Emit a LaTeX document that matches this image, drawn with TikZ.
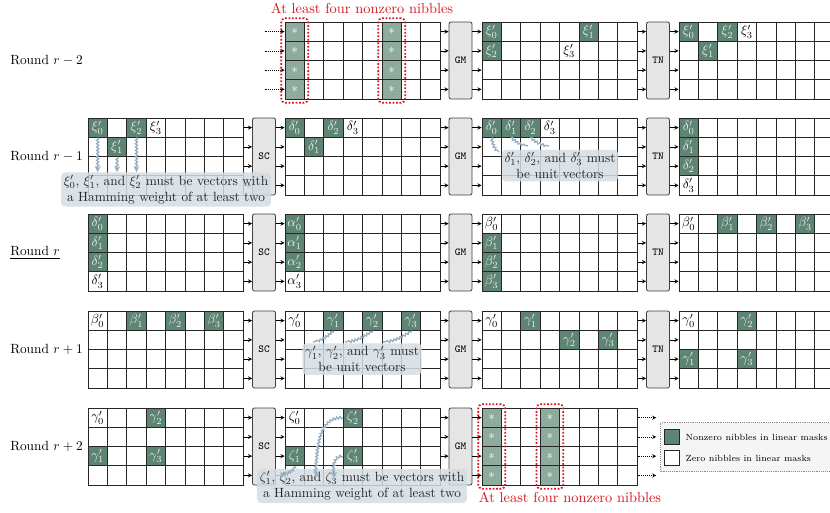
\documentclass[tikz,border=0pt]{standalone}
\usetikzlibrary{fit,positioning,decorations.pathmorphing}

\definecolor{nzgreen}{HTML}{5E8473}
\definecolor{nzlight}{HTML}{8FAB9D}
\definecolor{notefill}{HTML}{D3DCE3}
\definecolor{squig}{HTML}{98AFC3}
\definecolor{hotred}{HTML}{D8141E}

% 4x8 nibble grid: name, left, top (px)
\newcommand{\nibgrid}[3]{%
  \foreach \i in {0,...,3}
    \foreach \j in {0,...,7}
      \node[cell] (#1-\i-\j) at ({#2+9.7+19.4*\j},{#3+9.625+19.25*\i}) {};
}
% mark one cell: cell name, style, text
\newcommand{\mask}[3]{\node[#2] (#1t) at (#1) {#3};}
% wires grid -> box and box -> grid
\newcommand{\wiresin}[2]{\foreach \i in {0,...,3} \draw[->] (#1-\i-7.east) -- (#2.west |- #1-\i-7.east);}
\newcommand{\wiresout}[2]{\foreach \i in {0,...,3} \draw[->] (#1.east |- #2-\i-0.west) -- (#2-\i-0.west);}

\begin{document}
\begin{tikzpicture}[
    x=0.75pt, y=-0.75pt,
    >=stealth,
    cell/.style={draw=black!85, line width=0.6pt, minimum width=14.55pt, minimum height=14.44pt, inner sep=0pt},
    nzcell/.style={cell, fill=nzgreen, text=white!88!nzgreen},
    starcell/.style={cell, fill=nzlight, text=white},
    zcell/.style={inner sep=0pt},
    op/.style={draw=black!75, fill=black!10, line width=0.6pt, rounded corners=1.5pt, minimum width=17.25pt, minimum height=57.75pt, inner sep=0pt, font=\footnotesize\ttfamily},
    hot/.style={draw=hotred, line width=1.3pt, dash pattern=on 1.3pt off 1.3pt, rounded corners=3pt, inner sep=2.5pt},
    hottext/.style={text=hotred, font=\fontsize{10.8}{13}\selectfont},
    rlabel/.style={anchor=west, inner sep=0pt},
    note/.style={fill=notefill, fill opacity=0.85, text opacity=1, text=black!85, rounded corners=3pt, align=center, inner sep=2pt},
    squiggle/.style={draw=squig, line width=1pt, decorate, decoration={snake, amplitude=0.8pt, segment length=2.5pt, post length=2pt}},
    legtext/.style={font=\fontsize{6.7}{8}\selectfont, inner sep=0pt}
  ]
  \useasboundingbox (0,0) rectangle (830,512);
  \clip (0,0) rectangle (830,512);

  % round labels
  \node[rlabel] (lrm2) at (10,60.5) {Round $r-2$};
  \node[rlabel] (lrm1) at (10,156.5) {Round $r-1$};
  \node[rlabel] (lr0) at (10,252.5) {\underline{Round $r$}};
  \node[rlabel] (lrp1) at (10,349.5) {Round $r+1$};
  \node[rlabel] (lrp2) at (10,446.5) {Round $r+2$};

  % ---- round r-2
  \nibgrid{rm2b}{285}{22}
  \nibgrid{rm2c}{482}{22}
  \nibgrid{rm2d}{679}{22}
  \node[op] (rm2gm) at (460.5,60.5) {GM};
  \node[op] (rm2tn) at (658,60.5) {TN};
  \foreach \i in {0,...,3} {
    \mask{rm2b-\i-0}{starcell}{$*$}
    \mask{rm2b-\i-5}{starcell}{$*$}
    \draw[densely dotted,->] ([xshift=-15pt]rm2b-\i-0.west) -- (rm2b-\i-0.west);
  }
  \mask{rm2c-0-0}{nzcell}{$\xi'_0$}
  \mask{rm2c-0-5}{nzcell}{$\xi'_1$}
  \mask{rm2c-1-0}{nzcell}{$\xi'_2$}
  \mask{rm2c-1-4}{zcell}{$\xi'_3$}
  \mask{rm2d-0-0}{nzcell}{$\xi'_0$}
  \mask{rm2d-0-2}{nzcell}{$\xi'_2$}
  \mask{rm2d-0-3}{zcell}{$\xi'_3$}
  \mask{rm2d-1-1}{nzcell}{$\xi'_1$}
  \wiresin{rm2b}{rm2gm} \wiresout{rm2gm}{rm2c}
  \wiresin{rm2c}{rm2tn} \wiresout{rm2tn}{rm2d}
  \node[hot, fit=(rm2b-0-0)(rm2b-3-0)] (hot1) {};
  \node[hot, fit=(rm2b-0-5)(rm2b-3-5)] (hot2) {};
  \node[hottext] (hot1t) at (362,8) {At least four nonzero nibbles};

  % ---- round r-1
  \nibgrid{rm1a}{88}{118}
  \nibgrid{rm1b}{285}{118}
  \nibgrid{rm1c}{482}{118}
  \nibgrid{rm1d}{679}{118}
  \node[op] (rm1sc) at (264,156.5) {SC};
  \node[op] (rm1gm) at (460.5,156.5) {GM};
  \node[op] (rm1tn) at (658,156.5) {TN};
  \mask{rm1a-0-0}{nzcell}{$\xi'_0$}
  \mask{rm1a-0-2}{nzcell}{$\xi'_2$}
  \mask{rm1a-0-3}{zcell}{$\xi'_3$}
  \mask{rm1a-1-1}{nzcell}{$\xi'_1$}
  \mask{rm1b-0-0}{nzcell}{$\delta'_0$}
  \mask{rm1b-0-2}{nzcell}{$\delta'_2$}
  \mask{rm1b-0-3}{zcell}{$\delta'_3$}
  \mask{rm1b-1-1}{nzcell}{$\delta'_1$}
  \mask{rm1c-0-0}{nzcell}{$\delta'_0$}
  \mask{rm1c-0-1}{nzcell}{$\delta'_1$}
  \mask{rm1c-0-2}{nzcell}{$\delta'_2$}
  \mask{rm1c-0-3}{zcell}{$\delta'_3$}
  \mask{rm1d-0-0}{nzcell}{$\delta'_0$}
  \mask{rm1d-1-0}{nzcell}{$\delta'_1$}
  \mask{rm1d-2-0}{nzcell}{$\delta'_2$}
  \mask{rm1d-3-0}{zcell}{$\delta'_3$}
  \wiresin{rm1a}{rm1sc} \wiresout{rm1sc}{rm1b}
  \wiresin{rm1b}{rm1gm} \wiresout{rm1gm}{rm1c}
  \wiresin{rm1c}{rm1tn} \wiresout{rm1tn}{rm1d}

  % ---- round r
  \nibgrid{r0a}{88}{214}
  \nibgrid{r0b}{285}{214}
  \nibgrid{r0c}{482}{214}
  \nibgrid{r0d}{679}{214}
  \node[op] (r0sc) at (264,252.5) {SC};
  \node[op] (r0gm) at (460.5,252.5) {GM};
  \node[op] (r0tn) at (658,252.5) {TN};
  \mask{r0a-0-0}{nzcell}{$\delta'_0$}
  \mask{r0a-1-0}{nzcell}{$\delta'_1$}
  \mask{r0a-2-0}{nzcell}{$\delta'_2$}
  \mask{r0a-3-0}{zcell}{$\delta'_3$}
  \mask{r0b-0-0}{nzcell}{$\alpha'_0$}
  \mask{r0b-1-0}{nzcell}{$\alpha'_1$}
  \mask{r0b-2-0}{nzcell}{$\alpha'_2$}
  \mask{r0b-3-0}{zcell}{$\alpha'_3$}
  \mask{r0c-0-0}{zcell}{$\beta'_0$}
  \mask{r0c-1-0}{nzcell}{$\beta'_1$}
  \mask{r0c-2-0}{nzcell}{$\beta'_2$}
  \mask{r0c-3-0}{nzcell}{$\beta'_3$}
  \mask{r0d-0-0}{zcell}{$\beta'_0$}
  \mask{r0d-0-2}{nzcell}{$\beta'_1$}
  \mask{r0d-0-4}{nzcell}{$\beta'_2$}
  \mask{r0d-0-6}{nzcell}{$\beta'_3$}
  \wiresin{r0a}{r0sc} \wiresout{r0sc}{r0b}
  \wiresin{r0b}{r0gm} \wiresout{r0gm}{r0c}
  \wiresin{r0c}{r0tn} \wiresout{r0tn}{r0d}

  % ---- round r+1
  \nibgrid{rp1a}{88}{311}
  \nibgrid{rp1b}{285}{311}
  \nibgrid{rp1c}{482}{311}
  \nibgrid{rp1d}{679}{311}
  \node[op] (rp1sc) at (264,349.5) {SC};
  \node[op] (rp1gm) at (460.5,349.5) {GM};
  \node[op] (rp1tn) at (658,349.5) {TN};
  \mask{rp1a-0-0}{zcell}{$\beta'_0$}
  \mask{rp1a-0-2}{nzcell}{$\beta'_1$}
  \mask{rp1a-0-4}{nzcell}{$\beta'_2$}
  \mask{rp1a-0-6}{nzcell}{$\beta'_3$}
  \mask{rp1b-0-0}{zcell}{$\gamma'_0$}
  \mask{rp1b-0-2}{nzcell}{$\gamma'_1$}
  \mask{rp1b-0-4}{nzcell}{$\gamma'_2$}
  \mask{rp1b-0-6}{nzcell}{$\gamma'_3$}
  \mask{rp1c-0-0}{zcell}{$\gamma'_0$}
  \mask{rp1c-0-2}{nzcell}{$\gamma'_1$}
  \mask{rp1c-1-4}{nzcell}{$\gamma'_2$}
  \mask{rp1c-1-6}{nzcell}{$\gamma'_3$}
  \mask{rp1d-0-0}{zcell}{$\gamma'_0$}
  \mask{rp1d-0-3}{nzcell}{$\gamma'_2$}
  \mask{rp1d-2-0}{nzcell}{$\gamma'_1$}
  \mask{rp1d-2-3}{nzcell}{$\gamma'_3$}
  \wiresin{rp1a}{rp1sc} \wiresout{rp1sc}{rp1b}
  \wiresin{rp1b}{rp1gm} \wiresout{rp1gm}{rp1c}
  \wiresin{rp1c}{rp1tn} \wiresout{rp1tn}{rp1d}

  % ---- round r+2
  \nibgrid{rp2a}{88}{408}
  \nibgrid{rp2b}{285}{408}
  \nibgrid{rp2c}{482}{408}
  \node[op] (rp2sc) at (264,446.5) {SC};
  \node[op] (rp2gm) at (460.5,446.5) {GM};
  \mask{rp2a-0-0}{zcell}{$\gamma'_0$}
  \mask{rp2a-0-3}{nzcell}{$\gamma'_2$}
  \mask{rp2a-2-0}{nzcell}{$\gamma'_1$}
  \mask{rp2a-2-3}{nzcell}{$\gamma'_3$}
  \mask{rp2b-0-0}{zcell}{$\zeta'_0$}
  \mask{rp2b-0-3}{nzcell}{$\zeta'_2$}
  \mask{rp2b-2-0}{nzcell}{$\zeta'_1$}
  \mask{rp2b-2-3}{nzcell}{$\zeta'_3$}
  \foreach \i in {0,...,3} {
    \mask{rp2c-\i-0}{starcell}{$*$}
    \mask{rp2c-\i-3}{starcell}{$*$}
    \draw[densely dotted,->] (rp2c-\i-7.east) -- ([xshift=14pt]rp2c-\i-7.east);
  }
  \wiresin{rp2a}{rp2sc} \wiresout{rp2sc}{rp2b}
  \wiresin{rp2b}{rp2gm} \wiresout{rp2gm}{rp2c}
  \node[hot, fit=(rp2c-0-0)(rp2c-3-0)] (hot3) {};
  \node[hot, fit=(rp2c-0-3)(rp2c-3-3)] (hot4) {};
  \node[hottext] (hot3t) at (570,497) {At least four nonzero nibbles};

  % legend
  \node[draw=black!45, densely dotted, fill=black!4, minimum width=134pt, minimum height=37pt] (leg) at (750,447) {};
  \node[nzcell, minimum size=11.5pt] (legnz) at (672,437) {};
  \node[cell, fill=white, minimum size=11.5pt] (legz) at (672,458) {};
  \node[right=4pt of legnz, legtext] (legnzt) {Nonzero nibbles in linear masks};
  \node[right=4pt of legz, legtext] (legzt) {Zero nibbles in linear masks};

  % notes
  \node[note] (n1) at (166,189.5) {$\xi'_0$, $\xi'_1$, and $\xi'_2$ must be vectors with\\a Hamming weight of at least two};
  \foreach \c in {rm1a-0-0, rm1a-1-1, rm1a-0-2}
    \draw[squiggle,->] (\c.south) -- (\c.south |- n1.north);

  \node[note] (n2) at (560,165.5) {$\delta'_1$, $\delta'_2$, and $\delta'_3$ must\\be unit vectors};
  \coordinate (d1) at (499,152);
  \coordinate (d2) at (528,146);
  \coordinate (d3) at (549,146);
  \draw[squiggle] (rm1c-0-0.south) to[bend right=20] (d1);
  \draw[squiggle] (rm1c-0-1.south) to[bend right=15] (d2);
  \draw[squiggle] (rm1c-0-2.south) to[bend right=15] (d3);

  \node[note] (n3) at (362,359) {$\gamma'_1$, $\gamma'_2$, and $\gamma'_3$ must\\be unit vectors};
  \coordinate (g1) at (313,342);
  \coordinate (g2) at (345,342);
  \coordinate (g3) at (383,342);
  \draw[squiggle] (rp1b-0-2.south) to[bend left=15] (g1);
  \draw[squiggle] (rp1b-0-4.south) to[bend left=15] (g2);
  \draw[squiggle] (rp1b-0-6.south) to[bend left=15] (g3);

  \node[note] (n4) at (362,486) {$\zeta'_1$, $\zeta'_2$, and $\zeta'_3$ must be vectors with\\a Hamming weight of at least two};
  \coordinate (z1) at (281,478);
  \coordinate (z2) at (316,477);
  \coordinate (z3) at (334,478);
  \draw[squiggle,->] (rp2b-2-0.south) to[out=-100,in=80] (z1);
  \draw[squiggle,->] (rp2b-0-3.west) to[out=180,in=85] (z2);
  \draw[squiggle,->] (rp2b-2-3.west) to[out=180,in=90] (z3);
\end{tikzpicture}
\end{document}
